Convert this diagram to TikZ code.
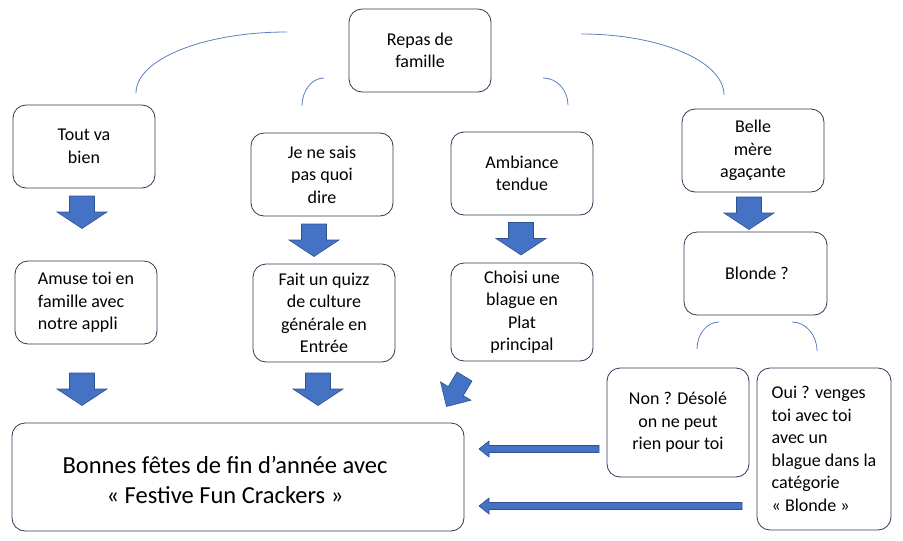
\documentclass[tikz,border=0pt]{standalone}
\usepackage{fontspec}
\setmainfont{Carlito}
\definecolor{boxline}{HTML}{2E3A52}
\definecolor{arrfill}{HTML}{4472C4}
\definecolor{arrline}{HTML}{2F528F}
\definecolor{arcline}{HTML}{5B7FC0}
\tikzset{
  box/.style={draw=boxline, line width=0.8pt, rounded corners=13pt, fill=white,
    minimum width=142pt, minimum height=83pt, inner sep=2pt,
    font=\fontsize{18}{22.5}\selectfont, align=center},
  blockarr/.style={fill=arrfill, draw=arrline, line width=0.6pt},
  arcstyle/.style={draw=arcline, line width=0.8pt},
  darrow/.pic={\path[blockarr] (-12.5,0) -- (12.5,0) -- (12.5,16) -- (25,16) -- (0,32.5) -- (-25,16) -- (-12.5,16) -- cycle;},
  smallarrow/.pic={\path[blockarr] (-8.75,0) -- (8.75,0) -- (8.75,17) -- (17.75,17) -- (0,35) -- (-17.75,17) -- (-8.75,17) -- cycle;}
}
\begin{document}
\begin{tikzpicture}[x=1pt,y=-1pt]
\useasboundingbox (0,0) rectangle (903,541);

% boxes
\node[box] (repas) at (420,50.5) {Repas de\\famille};
\node[box] (tout) at (84,146.5) {Tout va\\bien};
\node[box] (jene) at (322,174.5) {Je ne sais\\pas quoi\\dire};
\node[box] (ambiance) at (522,173.5) {Ambiance\\tendue};
\node[box] (belle) at (753,150.5) {Belle\\mère\\agaçante};
\node[box, minimum width=143pt] (blonde) at (755.5,273.5) {\hspace*{3pt}Blonde ?};
\node[box, align=left] (amuse) at (86,302.5) {Amuse toi en\\famille avec\\notre appli};
\node[box, minimum height=98pt] (quizz) at (324,313) {Fait un quizz\\de culture\\générale en\\Entrée};
\node[box, minimum height=98pt] (blague) at (522,312) {Choisi une\\blague en\\Plat\\principal};
\node[box, minimum height=109pt] (non) at (678,422.5) {Non ? Désolé\\on ne peut\\rien pour toi};
\node[box, minimum width=134pt, minimum height=162pt, align=left] (oui) at (824,449) {Oui ? venges\\toi avec toi\\avec un\\blague dans la\\catégorie\\« Blonde »};
\node[box, minimum width=452pt, minimum height=108pt] (bonnes) at (238,477) {};
\node[font=\fontsize{24.5}{30}\selectfont, align=center] (bonnestext) at (225,480) {Bonnes fêtes de fin d’année avec\\« Festive Fun Crackers »};

% arcs
\draw[arcstyle] (136,93) .. controls (136,59.3) and (203.6,32) .. (287,32);
\draw[arcstyle] (302,106) .. controls (302,90.5) and (311.9,78) .. (324,78);
\draw[arcstyle] (543,78) .. controls (556.8,78) and (568,90.1) .. (568,105);
\draw[arcstyle] (581,34) .. controls (660,34) and (724,61.3) .. (724,95);
\draw[arcstyle] (697,349) .. controls (697,334.1) and (706.9,322) .. (719,322);
\draw[arcstyle] (792,322) .. controls (805.8,322) and (817,335) .. (817,351);

% down block arrows
\pic at (82,196) {darrow};
\pic at (314,224) {darrow};
\pic at (521,222.5) {darrow};
\pic at (749,197) {darrow};
\pic at (82,373) {darrow};
\pic at (318,373) {darrow};
\pic[rotate=-31] at (464.5,376.5) {smallarrow};

% horizontal block arrows
\coordinate (a1tail) at (599,449);
\coordinate (a1tip) at (479,449);
\coordinate (a2tail) at (742,506);
\coordinate (a2tip) at (479,506);
\path[blockarr] (a1tail) ++(0,-3.5) -- ++(-110,0) -- ++(0,-4.5) -- (a1tip) -- ++(10,8) -- ++(0,-4.5) -- ++(110,0) -- cycle;
\path[blockarr] (a2tail) ++(0,-3.5) -- ++(-253,0) -- ++(0,-4.5) -- (a2tip) -- ++(10,8) -- ++(0,-4.5) -- ++(253,0) -- cycle;
\end{tikzpicture}
\end{document}
